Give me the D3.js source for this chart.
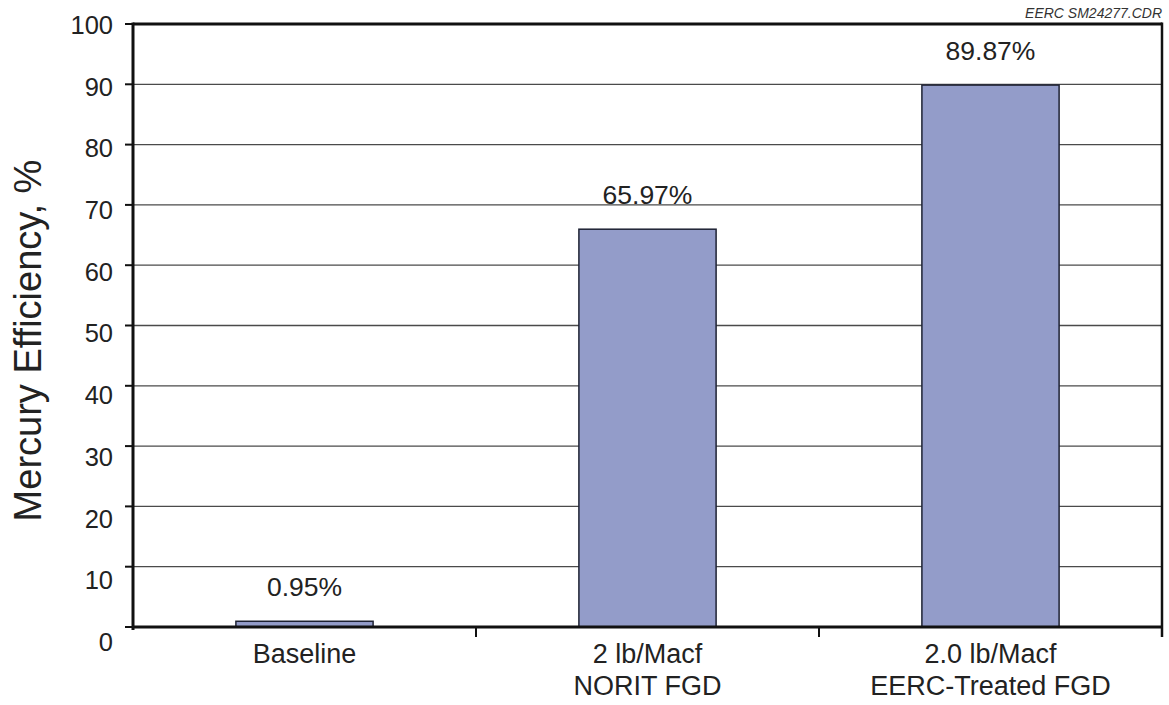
<!DOCTYPE html>
<html>
<head>
<meta charset="utf-8">
<script src="https://cdn.jsdelivr.net/npm/d3@7"></script>
<style>
  html, body { margin: 0; padding: 0; background: #fff; }
  svg { display: block; font-family: "Liberation Sans", Arial, Helvetica, sans-serif; }
</style>
</head>
<body>
<svg id="chart" width="1169" height="705"></svg>
<script>
const categories = [
  ["Baseline"],
  ["2 lb/Macf", "NORIT FGD"],
  ["2.0 lb/Macf", "EERC-Treated FGD"]
];
const values = [0.95, 65.97, 89.87];
const valueLabels = ["0.95%", "65.97%", "89.87%"];
const yTicks = [0, 10, 20, 30, 40, 50, 60, 70, 80, 90, 100];
const yTitle = "Mercury Efficiency, %";
const stamp = "EERC SM24277.CDR";

const svg = d3.select("#chart");
const W = 1169, H = 705;
const m = { left: 133, right: 7, top: 24, bottom: 78 };
const x0 = m.left, x1 = W - m.right, yTop = m.top, yBot = H - m.bottom;

const x = d3.scaleBand().domain(d3.range(categories.length)).range([x0, x1])
  .paddingInner(0.6).paddingOuter(0.3);
const xEdges = d3.scaleLinear().domain([0, categories.length]).range([x0, x1]);
const y = d3.scaleLinear().domain([0, 100]).range([yBot, yTop]);
// tick labels spread slightly differently from the grid in the original
const yLab = d3.scaleLinear().domain([0, 100]).range([y(0) + 15, y(100) + 1]);

// gridlines
svg.append("g").selectAll("line").data(yTicks.filter(t => t > 0 && t < 100)).join("line")
  .attr("x1", x0).attr("x2", x1).attr("y1", d => y(d)).attr("y2", d => y(d))
  .attr("stroke", "#4a4a4a").attr("stroke-width", 1.3);

// y tick marks
svg.append("g").selectAll("line").data(yTicks).join("line")
  .attr("x1", x0 - 8).attr("x2", x0).attr("y1", d => y(d)).attr("y2", d => y(d))
  .attr("stroke", "#111").attr("stroke-width", 2);

// y tick labels
svg.append("g").selectAll("text").data(yTicks).join("text")
  .attr("x", x0 - 20).attr("y", d => yLab(d)).attr("dy", "0.35em")
  .attr("text-anchor", "end").attr("font-size", 25.5).attr("fill", "#222")
  .text(d => d);

// bars
svg.append("g").selectAll("rect").data(values).join("rect")
  .attr("x", (d, i) => x(i)).attr("width", x.bandwidth())
  .attr("y", d => y(d)).attr("height", d => y(0) - y(d))
  .attr("fill", "#939cc9").attr("stroke", "#1e2233").attr("stroke-width", 1.5);

// value labels
svg.append("g").selectAll("text").data(values).join("text")
  .attr("x", (d, i) => x(i) + x.bandwidth() / 2)
  .attr("y", d => Math.min(y(d) - 25, y(0) - 15))
  .attr("text-anchor", "middle").attr("font-size", 26.5).attr("fill", "#222")
  .text((d, i) => valueLabels[i]);

// frame: top, right, bottom, left
svg.append("line").attr("x1", x0).attr("x2", x1).attr("y1", yTop).attr("y2", yTop)
  .attr("stroke", "#111").attr("stroke-width", 3);
svg.append("line").attr("x1", x1).attr("x2", x1).attr("y1", yTop - 1.5).attr("y2", yBot + 10)
  .attr("stroke", "#111").attr("stroke-width", 2.5);
svg.append("line").attr("x1", x0).attr("x2", x1).attr("y1", yBot).attr("y2", yBot)
  .attr("stroke", "#111").attr("stroke-width", 3);
svg.append("line").attr("x1", x0).attr("x2", x0).attr("y1", yTop - 1.5).attr("y2", yBot + 3)
  .attr("stroke", "#111").attr("stroke-width", 3);

// x category separator ticks
svg.append("g").selectAll("line").data(d3.range(1, categories.length)).join("line")
  .attr("x1", d => xEdges(d)).attr("x2", d => xEdges(d))
  .attr("y1", yBot).attr("y2", yBot + 10)
  .attr("stroke", "#111").attr("stroke-width", 2);

// category labels
const cat = svg.append("g").selectAll("text").data(categories).join("text")
  .attr("text-anchor", "middle").attr("font-size", 27).attr("fill", "#222")
  .attr("x", (d, i) => x(i) + x.bandwidth() / 2)
  .attr("y", yBot + 36);
cat.selectAll("tspan").data(d => d).join("tspan")
  .attr("x", function() { return d3.select(this.parentNode).attr("x"); })
  .attr("dy", (d, j) => j === 0 ? 0 : 32)
  .text(d => d);

// y title
svg.append("text")
  .attr("transform", `translate(41, ${(yTop + yBot) / 2 + 15}) rotate(-90)`)
  .attr("text-anchor", "middle").attr("font-size", 38).attr("fill", "#222")
  .text(yTitle);

// stamp
svg.append("text").attr("x", x1).attr("y", 18)
  .attr("text-anchor", "end").attr("font-size", 14).attr("font-style", "italic")
  .attr("fill", "#333").text(stamp);
</script>
</body>
</html>
